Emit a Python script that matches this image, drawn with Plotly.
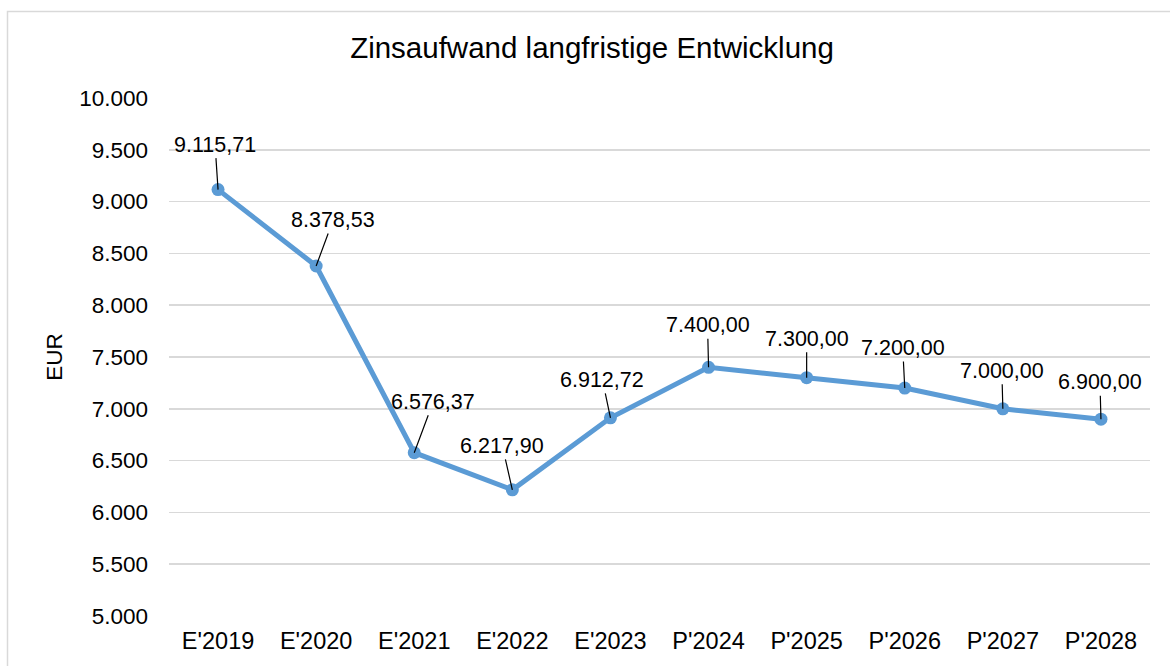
import plotly.graph_objects as go

categories = ["E'2019", "E'2020", "E'2021", "E'2022", "E'2023",
              "P'2024", "P'2025", "P'2026", "P'2027", "P'2028"]
values = [9115.71, 8378.53, 6576.37, 6217.90, 6912.72,
          7400.00, 7300.00, 7200.00, 7000.00, 6900.00]
label_texts = ["9.115,71", "8.378,53", "6.576,37", "6.217,90", "6.912,72",
               "7.400,00", "7.300,00", "7.200,00", "7.000,00", "6.900,00"]
label_dx = [-3, 17, 19, -10, -8, -1, 0, -2, -1, -1]
label_dy = [-45, -46, -51, -44, -38, -42, -39, -40, -38, -37]
y_ticks = [5000, 5500, 6000, 6500, 7000, 7500, 8000, 8500, 9000, 9500, 10000]
y_tick_text = ["5.000", "5.500", "6.000", "6.500", "7.000", "7.500",
               "8.000", "8.500", "9.000", "9.500", "10.000"]

FONT = "Liberation Sans, Arial, sans-serif"
W, H = 1170, 666
L, R, T, B = 169, 20, 98, 50
pw, ph = W - L - R, H - T - B

fig = go.Figure()
fig.add_trace(go.Scatter(
    x=categories, y=values, mode="lines+markers",
    line=dict(color="#5B9BD5", width=5),
    marker=dict(color="#5B9BD5", size=13),
    hoverinfo="skip", showlegend=False,
))

for c, v, t, dx, dy in zip(categories, values, label_texts, label_dx, label_dy):
    fig.add_annotation(
        x=c, y=v, text=t, showarrow=True, arrowhead=0, arrowwidth=1.2,
        arrowcolor="#000000", ax=dx, ay=dy, standoff=0,
        font=dict(family=FONT, size=21.5, color="#000000"),
    )

def px_to_paper_x(px):
    return (px - L) / pw

def px_to_paper_y(py):
    return (H - B - py) / ph

# chart-area border (cut off at right and bottom like the reference)
fig.add_shape(type="rect", xref="paper", yref="paper",
              x0=px_to_paper_x(7.5), x1=px_to_paper_x(1185),
              y0=px_to_paper_y(690), y1=px_to_paper_y(11.5),
              line=dict(color="#d9d9d9", width=1.5), fillcolor="rgba(0,0,0,0)",
              layer="below")

fig.update_layout(
    width=W, height=H,
    margin=dict(l=L, r=R, t=T, b=B, autoexpand=False),
    paper_bgcolor="white", plot_bgcolor="white",
    title=dict(text="Zinsaufwand langfristige Entwicklung",
               x=592 / W, xref="container", xanchor="center",
               y=1 - 48 / H, yref="container", yanchor="middle",
               font=dict(family=FONT, size=29.5, color="#000000")),
    font=dict(family=FONT, color="#000000"),
    xaxis=dict(type="category", range=[-0.5, len(categories) - 0.5],
               showgrid=False, zeroline=False, showline=False,
               ticks="", tickfont=dict(family=FONT, size=23.5, color="#000000"),
               ticklabelstandoff=8, fixedrange=True, automargin=False),
    yaxis=dict(range=[5000, 10000], tickvals=y_ticks, ticktext=y_tick_text,
               showgrid=True, gridcolor="#d9d9d9", gridwidth=1.5,
               zeroline=False, showline=False, ticks="",
               tickfont=dict(family=FONT, size=22.5, color="#000000"),
               ticklabelstandoff=20, automargin=False,
               title=dict(text="EUR", standoff=10,
                          font=dict(family=FONT, size=22.5, color="#000000")),
               fixedrange=True),
)

fig.write_html("out.html",
               config={"displayModeBar": False, "staticPlot": True},
               post_script="document.body.style.margin='0px';document.body.style.overflow='hidden';")
